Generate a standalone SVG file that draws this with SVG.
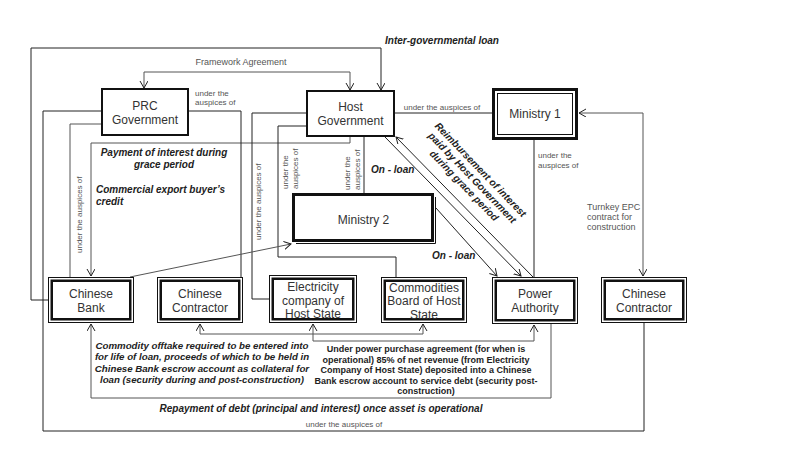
<svg xmlns="http://www.w3.org/2000/svg" width="800" height="450" viewBox="0 0 800 450">
<defs>
<style>
.bg{fill:#fff}
.c{fill:none;stroke:#222;stroke-width:1}
.g{fill:none;stroke:#555;stroke-width:1}
.nb{fill:#fff;stroke:#111}
.in{fill:none;stroke:#111;stroke-width:2.5}
.t{font-family:"Liberation Sans",Arial,sans-serif;font-size:12px;fill:#333;text-anchor:middle}
.l{font-family:"Liberation Sans",Arial,sans-serif;font-size:8px;fill:#555}
.l9{font-family:"Liberation Sans",Arial,sans-serif;font-size:9px;fill:#555}
.bi{font-family:"Liberation Sans",Arial,sans-serif;font-size:10px;font-weight:bold;font-style:italic;fill:#222}
.b{font-family:"Liberation Sans",Arial,sans-serif;font-size:9px;font-weight:bold;fill:#222}
.m{text-anchor:middle}
</style>
<marker id="a" markerWidth="10" markerHeight="10" refX="7" refY="4" orient="auto-start-reverse" markerUnits="userSpaceOnUse">
<path d="M0,0 L7,4 L0,8" fill="none" stroke="#222" stroke-width="1"/>
</marker>
</defs>
<rect class="bg" x="0" y="0" width="800" height="450"/>

<g id="connectors">
<path class="c" d="M48,300 H31 V48 H381 V90" marker-end="url(#a)"/>
<path class="g" d="M144,88 V72 H350 V90" marker-start="url(#a)" marker-end="url(#a)"/>
<path class="c" d="M102,111 H43 V431 H644 V323"/>
<path class="g" d="M102,124 H70 V277"/>
<path class="g" d="M350,136 V143 H91 V276" marker-end="url(#a)"/>
<path class="c" d="M188,111 H241 V277"/>
<path class="c" d="M307,113 H252 V299 H269"/>
<path class="c" d="M307,126 H278 V257 H396 V277"/>
<path class="c" d="M364,136 V193"/>
<path class="c" d="M394,113 H492"/>
<path class="c" d="M385,137 L521,276" marker-end="url(#a)"/>
<path class="c" d="M533,277 L396,137" marker-end="url(#a)"/>
<path class="c" d="M436,208 L497,276" marker-end="url(#a)"/>
<path class="c" d="M534,140 V277"/>
<path class="g" d="M579,113 H643 V276" marker-start="url(#a)" marker-end="url(#a)"/>
<path class="g" d="M130,277 L291,244" marker-end="url(#a)"/>
<path class="g" d="M200,324 V334 H423 V324" marker-start="url(#a)" marker-end="url(#a)"/>
<path class="g" d="M313,324 V341 H534 V325" marker-start="url(#a)" marker-end="url(#a)"/>
<path class="g" d="M551,324 V398 H91 V324" marker-end="url(#a)"/>
</g>

<g id="labels">
<text class="bi m" x="442" y="43.5">Inter-governmental loan</text>
<text class="l9 m" x="241" y="65">Framework Agreement</text>
<text class="l" x="195" y="96">under the</text>
<text class="l" x="195" y="105">auspices of</text>
<text class="l m" x="442" y="110">under the auspices of</text>
<text class="l" x="538" y="158">under the</text>
<text class="l" x="538" y="168">auspices of</text>
<text class="l9" x="587" y="210">Turnkey EPC</text>
<text class="l9" x="587" y="220">contract for</text>
<text class="l9" x="587" y="230">construction</text>
<text class="bi m" x="164" y="155.5">Payment of interest during</text>
<text class="bi m" x="164" y="167.5">grace period</text>
<text class="bi" x="96" y="192.5">Commercial export buyer’s</text>
<text class="bi" x="96" y="204.5">credit</text>
<text class="l" transform="translate(81.5,253) rotate(-90)">under the auspices of</text>
<text class="l" transform="translate(260.5,240) rotate(-90)">under the auspices of</text>
<text class="l" transform="translate(287.5,189) rotate(-90)">under the</text>
<text class="l" transform="translate(297.5,189) rotate(-90)">auspices of</text>
<text class="l" transform="translate(350,190) rotate(-90)">under the</text>
<text class="l" transform="translate(360,190) rotate(-90)">auspices of</text>
<text class="bi" x="371" y="173">On - loan</text>
<text class="bi" x="432" y="259">On - loan</text>
<text class="bi m" transform="translate(472.5,177.5) rotate(46)"><tspan x="0" y="-7.9">Reimbursement of interest</tspan><tspan x="0" y="3.6">paid by Host Government</tspan><tspan x="0" y="15.1">during grace period</tspan></text>
<text class="bi m" style="font-size:9.7px"><tspan x="202" y="348.5">Commodity offtake required to be entered into</tspan><tspan x="202" y="360">for life of loan, proceeds of which to be held in</tspan><tspan x="202" y="371.5">Chinese Bank escrow account as collateral for</tspan><tspan x="202" y="383">loan (security during and post-construction)</tspan></text>
<text class="b m"><tspan x="426" y="352">Under power purchase agreement (for when is</tspan><tspan x="426" y="362.5">operational) 85% of net revenue (from Electricity</tspan><tspan x="426" y="373">Company of Host State) deposited into a Chinese</tspan><tspan x="426" y="383.5">Bank escrow account to service debt (security post-</tspan><tspan x="426" y="394">construction)</tspan></text>
<text class="bi m" x="321" y="411.5">Repayment of debt (principal and interest) once asset is operational</text>
<text class="l m" x="344" y="427">under the auspices of</text>
</g>

<g id="prc">
<rect class="nb" x="102" y="89" width="86" height="46" stroke-width="2"/>
<text class="t" x="145" y="110">PRC</text>
<text class="t" x="145" y="123.5">Government</text>
</g>
<g id="host">
<rect class="nb" x="307" y="91" width="87" height="45" stroke-width="2"/>
<text class="t" x="350.5" y="111">Host</text>
<text class="t" x="350.5" y="125">Government</text>
</g>
<g id="ministry1">
<rect class="nb" x="493.5" y="89.5" width="83" height="49" stroke-width="3"/>
<rect fill="none" stroke="#111" stroke-width="1" x="497.5" y="93.5" width="75" height="41"/>
<text class="t" x="535" y="118">Ministry 1</text>
</g>
<g id="ministry2">
<rect class="nb" x="293.5" y="194.5" width="139" height="46" stroke-width="3"/>
<path d="M296,243.5 H435.5 V197" fill="none" stroke="#111" stroke-width="1"/>
<text class="t" x="363.5" y="223.5">Ministry 2</text>
</g>
<g id="chinese-bank">
<rect class="nb" x="48.5" y="277.5" width="85" height="45" stroke-width="1"/>
<rect class="in" x="51.75" y="280.75" width="78.5" height="38.5"/>
<text class="t" x="91" y="298">Chinese</text>
<text class="t" x="91" y="312">Bank</text>
</g>
<g id="chinese-contractor-1">
<rect class="nb" x="157.5" y="277.5" width="85" height="45" stroke-width="1"/>
<rect class="in" x="160.75" y="280.75" width="78.5" height="38.5"/>
<text class="t" x="200" y="298">Chinese</text>
<text class="t" x="200" y="312">Contractor</text>
</g>
<g id="electricity">
<rect class="nb" x="269.5" y="275.5" width="87" height="47" stroke-width="1"/>
<rect class="in" x="272.75" y="278.75" width="80.5" height="40.5"/>
<text class="t" x="313" y="291">Electricity</text>
<text class="t" x="313" y="304.5">company of</text>
<text class="t" x="313" y="317.5">Host State</text>
</g>
<g id="commodities">
<rect class="nb" x="381.5" y="277.5" width="85" height="45" stroke-width="1"/>
<rect class="in" x="384.75" y="280.75" width="78.5" height="38.5"/>
<text class="t" x="424" y="291.5">Commodities</text>
<text class="t" x="424" y="304.5">Board of Host</text>
<text class="t" x="424" y="318.5">State</text>
</g>
<g id="power-authority">
<rect class="nb" x="492.5" y="277.5" width="85" height="46" stroke-width="1"/>
<rect class="in" x="495.75" y="280.75" width="78.5" height="39.5"/>
<text class="t" x="535" y="298">Power</text>
<text class="t" x="535" y="312">Authority</text>
</g>
<g id="chinese-contractor-2">
<rect class="nb" x="601.5" y="277.5" width="85" height="45" stroke-width="1"/>
<rect class="in" x="604.75" y="280.75" width="78.5" height="38.5"/>
<text class="t" x="644" y="298">Chinese</text>
<text class="t" x="644" y="312">Contractor</text>
</g>
</svg>
